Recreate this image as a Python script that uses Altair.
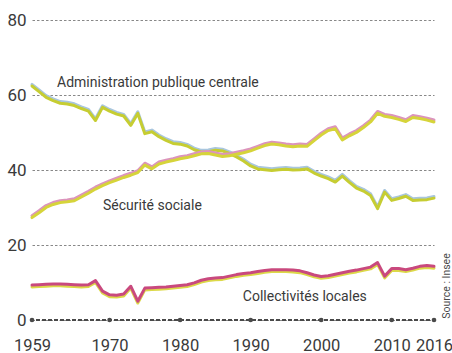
import altair as alt
import pandas as pd

years = list(range(1959, 2017))

admin = [62.5, 61.0, 59.5, 58.6, 57.9, 57.7, 57.3, 56.5, 55.8, 53.3,
         56.8, 55.8, 55.0, 54.5, 52.0, 55.2, 49.8, 50.3, 49.0, 48.0,
         47.2, 47.0, 46.5, 45.5, 44.9, 45.0, 45.4, 45.2, 44.5, 43.6,
         42.5, 41.2, 40.4, 40.2, 40.0, 40.2, 40.3, 40.1, 40.2, 40.4,
         39.3, 38.5, 37.8, 36.9, 38.5, 36.8, 35.3, 34.5, 33.3, 29.8,
         34.2, 32.0, 32.5, 33.1, 32.0, 32.1, 32.2, 32.6]

secu = [27.5, 28.8, 30.2, 31.0, 31.5, 31.7, 32.0, 33.0, 34.0, 35.1,
        36.0, 36.8, 37.5, 38.2, 38.8, 39.5, 41.5, 40.5, 41.8, 42.3,
        42.7, 43.2, 43.5, 44.0, 44.5, 44.6, 44.2, 43.8, 44.0, 44.4,
        44.8, 45.3, 46.0, 46.7, 47.1, 46.9, 46.6, 46.4, 46.6, 46.5,
        48.0, 49.5, 50.7, 51.2, 48.2, 49.3, 50.2, 51.5, 53.0, 55.3,
        54.5, 54.2, 53.7, 53.1, 54.2, 53.9, 53.5, 53.0]

coll = [9.2, 9.3, 9.4, 9.5, 9.5, 9.4, 9.3, 9.2, 9.3, 10.4,
        7.6, 6.6, 6.5, 6.8, 8.9, 4.9, 8.4, 8.5, 8.6, 8.7,
        8.9, 9.1, 9.3, 9.8, 10.5, 10.9, 11.1, 11.2, 11.6, 12.0,
        12.3, 12.5, 12.8, 13.1, 13.3, 13.3, 13.3, 13.2, 13.0, 12.5,
        11.9, 11.5, 11.7, 12.1, 12.5, 12.9, 13.2, 13.6, 14.0, 15.2,
        11.6, 13.6, 13.6, 13.3, 13.7, 14.2, 14.4, 14.2]

x_ticks = [1959, 1970, 1980, 1990, 2000, 2010, 2016]
y_ticks = [0, 20, 40, 60, 80]

label_text = ["Administration publique centrale", "Sécurité sociale", "Collectivités locales"]
label_year = [1962.55, 1969.07, 1988.9]
label_value = [62.1, 29.4, 4.95]

source_text = "Source : Insee"

FONT = "Roboto"

df = pd.DataFrame({
    "year": years * 3,
    "value": admin + secu + coll,
    "series": ["admin"] * len(years) + ["secu"] * len(years) + ["coll"] * len(years),
})
ticks_df = pd.DataFrame({"year": x_ticks})
labels_df = pd.DataFrame({"text": label_text, "year": label_year, "value": label_value})
src_df = pd.DataFrame({"text": [source_text]})

W, H = 402, 300

xs = alt.Scale(domain=[1959, 2016], nice=False, zero=False)
ys = alt.Scale(domain=[0, 80], nice=False)

x_enc = alt.X("year:Q", scale=xs, axis=alt.Axis(
    values=x_ticks, format="d", title=None, grid=False, domain=False, ticks=False,
    labelFont=FONT, labelFontSize=16.5, labelColor="#3a3a3a", labelPadding=17,
    labelFlush=False, labelOverlap=False))
y_enc = alt.Y("value:Q", scale=ys, axis=alt.Axis(
    values=y_ticks, title=None, domain=False, ticks=False, grid=True,
    gridDash=[2.5, 2], gridColor="#7a7a7a", gridWidth=0.9,
    labelFont=FONT, labelFontSize=17, labelColor="#3a3a3a", labelPadding=6))

base = alt.Chart(df).encode(x=x_enc, y=y_enc)

def line(series, color, yoff, width=3.0):
    return base.transform_filter(alt.datum.series == series).mark_line(
        color=color, strokeWidth=width, yOffset=yoff, strokeJoin="round", strokeCap="round")

zero_rule = alt.Chart(ticks_df).mark_rule(color="#4a4a4a", strokeWidth=1.4, strokeDash=[4, 2]).encode(
    x=alt.value(-2), x2=alt.value(W + 2), y=alt.datum(0))
zero_pts = alt.Chart(ticks_df).mark_point(filled=True, color="#4a4a4a", size=22, opacity=1).encode(
    x=alt.X("year:Q", scale=xs), y=alt.datum(0))

layers = [
    zero_rule, zero_pts,
    line("admin", "#a9c6de", -1.3),
    line("admin", "#c6cd32", 0.4),
    line("secu", "#dc94bc", -1.2),
    line("secu", "#d6d43a", 0.7),
    line("coll", "#dcd948", 1.4),
    line("coll", "#c9497e", -0.4),
]

labels = alt.Chart(labels_df).mark_text(
    font=FONT, fontSize=14, color="#3a3a3a", align="left", baseline="alphabetic").encode(
    x=alt.X("year:Q", scale=xs), y=alt.Y("value:Q", scale=ys), text="text:N")

src = alt.Chart(src_df).mark_text(
    font=FONT, fontSize=10.5, color="#4a4a4a", angle=270, align="center", baseline="middle").encode(
    x=alt.value(415), y=alt.value(266), text="text:N")

chart = alt.layer(*layers, labels, src).properties(
    width=W, height=H,
    autosize=alt.AutoSizeParams(type="none"),
    padding={"left": 32, "top": 20, "right": 18, "bottom": 33},
    background="white",
).configure_view(stroke=None)

chart.save("out.html", embed_options={"renderer": "svg", "actions": False})
